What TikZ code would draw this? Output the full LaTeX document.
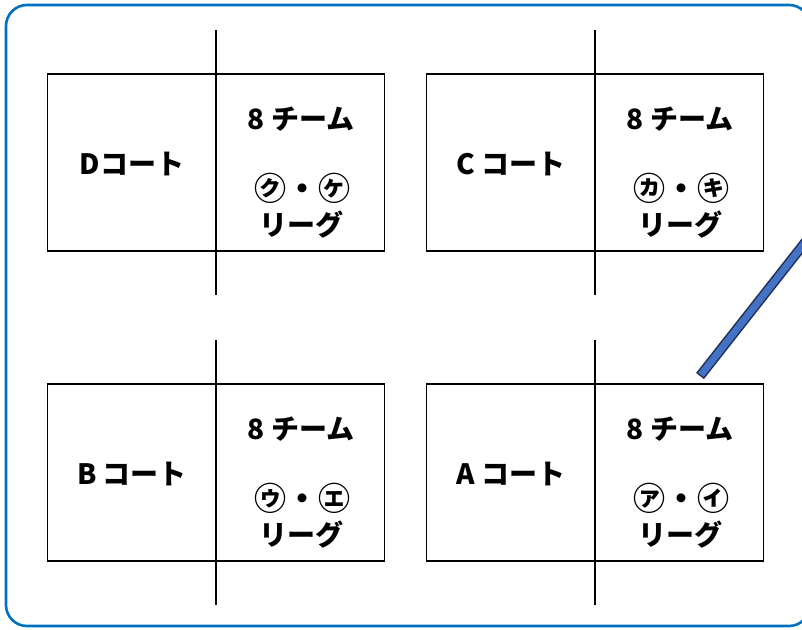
\documentclass[tikz,border=0pt]{standalone}
\usepackage{fontspec}
\setmainfont{Noto Sans CJK JP}
\definecolor{frameblue}{RGB}{0,112,192}
\definecolor{penblue}{RGB}{68,114,196}
\definecolor{pennavy}{RGB}{31,46,84}
\begin{document}
\begin{tikzpicture}[x=1pt,y=-1pt,
    court/.style={draw, line width=1.2pt, minimum width=337pt, minimum height=177pt, inner sep=0pt},
    net/.style={line width=2.4pt},
    courttext/.style={font=\bfseries\fontsize{28}{32}\selectfont, inner sep=0pt},
    marktext/.style={font=\bfseries\fontsize{32}{36}\selectfont, inner sep=0pt}]
  \useasboundingbox (0,0) rectangle (802,629);
  \clip (0,0) rectangle (802,629);
  % outer frame
  \draw[frameblue, line width=2.6pt, rounded corners=21pt] (6,5) rectangle (810,626);
  % four courts
  \foreach \n/\x/\y/\name/\lg in {D/216/162.5/Dコート/㋗・㋘,
                                  C/595/162.5/{C コート}/㋕・㋖,
                                  B/216/472.5/{B コート}/㋒・㋓,
                                  A/595/472.5/{A コート}/㋐・㋑}{
    \node[court] (court\n) at (\x,\y) {};
    \coordinate (nettop\n) at (\x,\y-132.5);
    \coordinate (netbot\n) at (\x,\y+132.5);
    \draw[net] (nettop\n) -- (netbot\n);
    \node[courttext] (name\n) at ([shift={(-84,1)}]court\n.center) {\name};
    \node[courttext] (teams\n) at ([shift={(85,-43)}]court\n.center) {8 チーム};
    \node[marktext] (mark\n) at ([shift={(86,26)}]court\n.center) {\lg};
    \node[courttext] (league\n) at ([shift={(85,62)}]court\n.center) {リーグ};
  }
  % pen
  \coordinate (penlow) at (700,376);
  \coordinate (penhigh) at (818,226);
  \draw[pennavy, line width=10pt] (penlow) -- (penhigh);
  \draw[penblue, line width=7pt, shorten <=1.5pt] (penlow) -- (penhigh);
\end{tikzpicture}
\end{document}
